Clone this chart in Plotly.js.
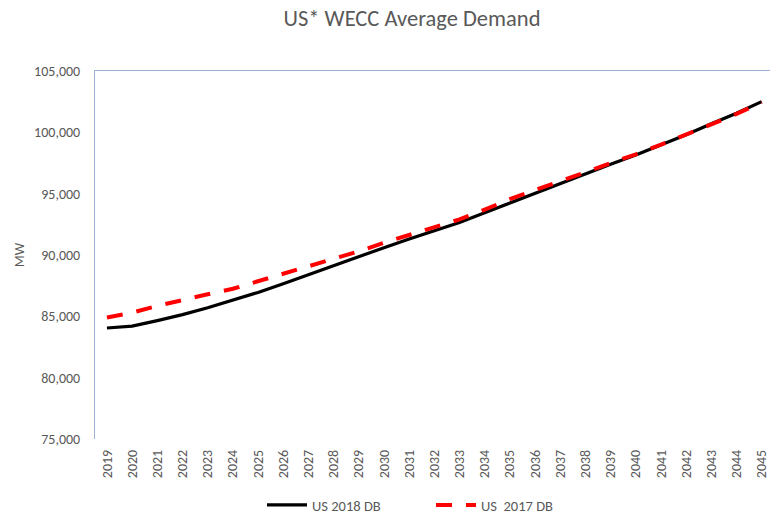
<!DOCTYPE html>
<html>
<head>
<meta charset="utf-8">
<script src="https://cdn.plot.ly/plotly-3.0.1.min.js"></script>
<style>
html,body{margin:0;padding:0;background:#fff;overflow:hidden;}
#chart{width:770px;height:517px;}
</style>
</head>
<body>
<div id="chart"></div>
<script>
var years = [2019,2020,2021,2022,2023,2024,2025,2026,2027,2028,2029,2030,2031,2032,2033,2034,2035,2036,2037,2038,2039,2040,2041,2042,2043,2044,2045];
var yearLabels = years.map(function(y){return String(y);});
var us2018DB = [84050,84200,84650,85140,85700,86300,86950,87650,88400,89100,89850,90600,91300,92000,92650,93450,94250,95050,95850,96650,97400,98150,98950,99800,100700,101550,102500];
var us2017DB = [84900,85300,85850,86350,86800,87250,87850,88500,89100,89700,90300,91000,91650,92300,92900,93700,94550,95300,96000,96750,97500,98200,99000,99800,100650,101500,102450];
var seriesNames = ["US 2018 DB", "US  2017 DB"];
var yTicks = [75000,80000,85000,90000,95000,100000,105000];

var fontFam = "Calibri, Carlito, 'Liberation Sans', Arial, sans-serif";
var textCol = "#595959";
var axisCol = "#9db1d0";

var traces = [
  {x: years, y: us2018DB, name: seriesNames[0], type: "scatter", mode: "lines",
   line: {color: "#000000", width: 3.2}},
  {x: years, y: us2017DB, name: seriesNames[1], type: "scatter", mode: "lines",
   line: {color: "#ff0000", width: 4, dash: "16px,14px"}},
  {x: years, y: us2018DB, xaxis: "x2", showlegend: false, hoverinfo: "skip",
   mode: "lines", line: {color: "rgba(0,0,0,0)", width: 0}}
];

var xr = [2018.525, 2045.33];
var layout = {
  width: 770, height: 517,
  margin: {l: 95, r: 0, t: 71, b: 78, pad: 0},
  paper_bgcolor: "#ffffff", plot_bgcolor: "#ffffff",
  font: {family: fontFam, color: textCol, size: 14},
  title: {text: "US* WECC Average Demand", x: 412/770, xref: "container", xanchor: "center",
          y: 1 - 18/517, yref: "container", yanchor: "middle",
          font: {family: fontFam, size: 22.5, color: textCol}},
  xaxis: {range: xr, tickmode: "array", tickvals: years, ticktext: yearLabels,
          tickangle: -90, showgrid: false, zeroline: false, showline: false, ticks: "",
          ticklabeloverflow: "allow",
          ticklabelstandoff: 7, tickfont: {size: 14, color: textCol, family: fontFam}},
  xaxis2: {overlaying: "x", side: "top", range: xr, showline: true, linecolor: axisCol,
           linewidth: 1, showticklabels: false, showgrid: false, zeroline: false, ticks: ""},
  yaxis: {range: [75000, 105000], tickmode: "array", tickvals: yTicks, tickformat: ",d",
          showgrid: false, zeroline: false, showline: true, linecolor: axisCol, linewidth: 1,
          ticks: "", ticklabelstandoff: 11, tickfont: {size: 14, color: textCol, family: fontFam}},
  showlegend: true,
  legend: {orientation: "h", xref: "container", yref: "container", x: 262/770, xanchor: "left",
           y: 1 - 505/517, yanchor: "middle", font: {size: 14.5, color: textCol, family: fontFam},
           entrywidth: 114, entrywidthmode: "pixels", itemwidth: 40, tracegroupgap: 0,
           bgcolor: "rgba(0,0,0,0)"}
};
layout.yaxis.title = {text: "MW", standoff: 6, font: {size: 14, color: textCol, family: fontFam}};

Plotly.newPlot("chart", traces, layout, {displayModeBar: false, staticPlot: true});
</script>
</body>
</html>
